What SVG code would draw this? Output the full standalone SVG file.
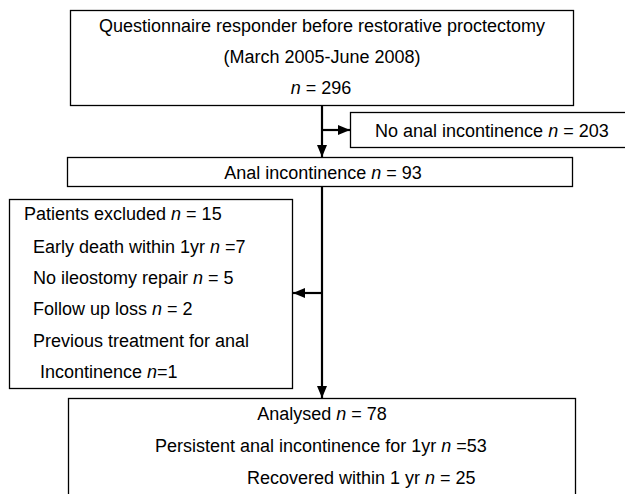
<svg xmlns="http://www.w3.org/2000/svg" width="625" height="494" viewBox="0 0 625 494">
<style>
.box{fill:#fff;stroke:#000;stroke-width:1.3}
text{font-family:"Liberation Sans",Arial,sans-serif;font-size:18px;fill:#000}
.c{text-anchor:middle}
.con{stroke:#000;stroke-width:2.2;fill:none}
</style>
<defs>
<marker id="ah" viewBox="0 0 12 10" refX="12" refY="5" markerWidth="12" markerHeight="10" markerUnits="userSpaceOnUse" orient="auto">
<path d="M0,0 L12,5 L0,10 Z" fill="#000"/>
</marker>
</defs>
<rect width="625" height="494" fill="#fff"/>
<g id="connectors">
<line class="con" x1="322" y1="106" x2="322" y2="157" marker-end="url(#ah)"/>
<line class="con" x1="322" y1="130" x2="350" y2="130" marker-end="url(#ah)"/>
<line class="con" x1="322" y1="187" x2="322" y2="398" marker-end="url(#ah)"/>
<line class="con" x1="322" y1="293" x2="293" y2="293" marker-end="url(#ah)"/>
</g>
<g id="questionnaire">
<rect class="box" x="70.5" y="10.5" width="503" height="95"/>
<text class="c" x="322" y="32">Questionnaire responder before restorative proctectomy</text>
<text class="c" x="322" y="63">(March 2005-June 2008)</text>
<text class="c" x="321" y="94"><tspan font-style="italic">n</tspan> = 296</text>
</g>
<g id="no-anal">
<rect class="box" x="350.5" y="112.5" width="280" height="35"/>
<text x="375" y="137">No anal incontinence <tspan font-style="italic">n</tspan> = 203</text>
</g>
<g id="anal">
<rect class="box" x="67.5" y="157.5" width="505" height="29"/>
<text class="c" x="323" y="179">Anal incontinence <tspan font-style="italic">n</tspan> = 93</text>
</g>
<g id="excluded">
<rect class="box" x="9.5" y="199.5" width="283" height="189"/>
<text x="24" y="220">Patients excluded <tspan font-style="italic">n</tspan> = 15</text>
<text x="33" y="253">Early death within 1yr <tspan font-style="italic">n</tspan> =7</text>
<text x="33" y="284">No ileostomy repair <tspan font-style="italic">n</tspan> = 5</text>
<text x="33" y="315">Follow up loss <tspan font-style="italic">n</tspan> = 2</text>
<text x="33" y="347">Previous treatment for anal</text>
<text x="40" y="378">Incontinence <tspan font-style="italic">n</tspan>=1</text>
</g>
<g id="analysed">
<rect class="box" x="68.5" y="398.5" width="507" height="110"/>
<text class="c" x="322" y="420">Analysed <tspan font-style="italic">n</tspan> = 78</text>
<text x="155" y="452">Persistent anal incontinence for 1yr <tspan font-style="italic">n</tspan> =53</text>
<text x="247" y="484">Recovered within 1 yr <tspan font-style="italic">n</tspan> = 25</text>
</g>
</svg>
